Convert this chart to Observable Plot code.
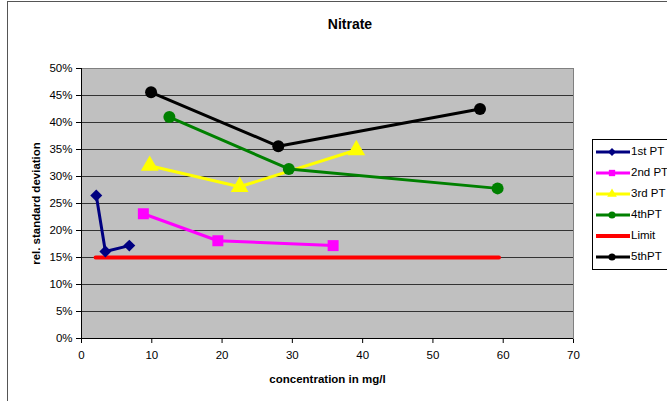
<!DOCTYPE html>
<html><head><meta charset="utf-8">
<script src="https://cdn.jsdelivr.net/npm/d3@7"></script>
<script src="https://cdn.jsdelivr.net/npm/@observablehq/plot@0.6"></script>
<style>
body{margin:0;background:#fff;font-family:"Liberation Sans",Arial,sans-serif;}
#wrap{position:relative;width:667px;height:401px;overflow:hidden;}
#border{position:absolute;left:7px;top:1px;width:700px;height:420px;border:1px solid #555;box-sizing:border-box;}
#title{position:absolute;left:0;width:700px;top:16px;text-align:center;font-weight:bold;font-size:14px;}
#legend{position:absolute;left:592px;top:139px;width:100px;height:131px;border:1px solid #000;background:#fff;box-sizing:border-box;}
.li{position:absolute;left:0;height:18px;font-size:11.5px;}
.li svg{position:absolute;left:3px;top:0;}
.li span{position:absolute;left:38px;top:2px;white-space:nowrap;}
</style></head>
<body><div id="wrap"><div id="border"></div><div id="title">Nitrate</div><div id="legend"></div></div>
<script>
const seriesNames = ["1st PT","2nd PT","3rd PT","4thPT","Limit","5thPT"];
const pt1x = [2.1, 3.4, 6.8];    const pt1y = [26.5, 16.1, 17.2];
const pt2x = [8.8, 19.4, 35.8];  const pt2y = [23.1, 18.1, 17.2];
const pt3x = [9.7, 22.5, 39.1];  const pt3y = [32.0, 28.1, 34.9];
const pt4x = [12.5, 29.5, 59.2]; const pt4y = [41.0, 31.4, 27.8];
const limitX = [2.0, 59.4];      const limitY = [15, 15];
const pt5x = [9.9, 28.0, 56.7];  const pt5y = [45.6, 35.6, 42.5];
const xTicks = [0,10,20,30,40,50,60,70];
const yTicks = [0,5,10,15,20,25,30,35,40,45,50];

const styles = {
  "1st PT": {color:"#000080", symbol:"diamond2", r:5.4},
  "2nd PT": {color:"#ff00ff", symbol:"square", r:6.2},
  "3rd PT": {color:"#ffff00", symbol:"triangle", r:6.6},
  "4thPT": {color:"#008000", symbol:"circle", r:6},
  "Limit": {color:"#ff0000", symbol:null},
  "5thPT": {color:"#000000", symbol:"circle", r:6}
};
const mk = (name, xs, ys) => xs.map((x,i)=>({series:name, x, y:ys[i]}));
const data = {
  "1st PT": mk("1st PT", pt1x, pt1y),
  "2nd PT": mk("2nd PT", pt2x, pt2y),
  "3rd PT": mk("3rd PT", pt3x, pt3y),
  "4thPT": mk("4thPT", pt4x, pt4y),
  "Limit": mk("Limit", limitX, limitY),
  "5thPT": mk("5thPT", pt5x, pt5y)
};

const marks = [
  Plot.frame({fill:"#c0c0c0", stroke:"#808080"}),
  Plot.ruleY(yTicks.filter(d=>d>0 && d<50), {stroke:"#333", strokeWidth:1}),
  Plot.ruleX([0], {stroke:"#000"}),
  Plot.ruleY([0], {stroke:"#000"}),
];
const drawOrder = ["Limit","1st PT","2nd PT","3rd PT","4thPT","5thPT"];
for (const name of drawOrder) {
  const s = styles[name];
  marks.push(Plot.line(data[name], {x:"x", y:"y", stroke:s.color, strokeWidth: name==="Limit"?4:3}));
  if (s.symbol) marks.push(Plot.dot(data[name], {x:"x", y:"y", fill:s.color, stroke:"none", symbol:()=>s.symbol, r:s.r}));
}

const chart = Plot.plot({
  width:667, height:401,
  marginLeft:81, marginRight:94, marginTop:68, marginBottom:63,
  style:{fontFamily:"'Liberation Sans', Arial, sans-serif", fontSize:"11.5px", background:"transparent", overflow:"visible"},
  x:{domain:[0,70], ticks:xTicks, tickSize:5, tickPadding:7, label:"concentration in mg/l", labelAnchor:"center", labelArrow:"none", labelOffset:44},
  y:{domain:[0,50], ticks:yTicks, tickSize:5, tickPadding:4, tickFormat:d=>d+"%", label:"rel. standard deviation", labelAnchor:"center", labelArrow:"none", labelOffset:50},
  symbol:{type:"identity"},
  marks
});
chart.style.position="absolute"; chart.style.left="0"; chart.style.top="0";
chart.querySelectorAll('g[aria-label="x-axis label"] text, g[aria-label="y-axis label"] text').forEach(t=>{t.style.fontWeight="bold";});
document.getElementById("wrap").insertBefore(chart, document.getElementById("title"));

const symMap = {"diamond2":d3.symbolDiamond2,"square":d3.symbolSquare,"triangle":d3.symbolTriangle,"circle":d3.symbolCircle};
const legend = document.getElementById("legend");
seriesNames.forEach((name,i)=>{
  const s = styles[name];
  const div = document.createElement("div");
  div.className="li"; div.style.top=(3+i*21)+"px";
  let sym = "";
  if (s.symbol) {
    const p = d3.symbol(symMap[s.symbol], 40)();
    sym = `<path d="${p}" transform="translate(16,9)" fill="${s.color}"/>`;
  }
  div.innerHTML = `<svg width="34" height="18"><line x1="0" x2="34" y1="9" y2="9" stroke="${s.color}" stroke-width="${name==="Limit"?4:3}"/>${sym}</svg><span>${name}</span>`;
  legend.appendChild(div);
});
</script></body></html>
